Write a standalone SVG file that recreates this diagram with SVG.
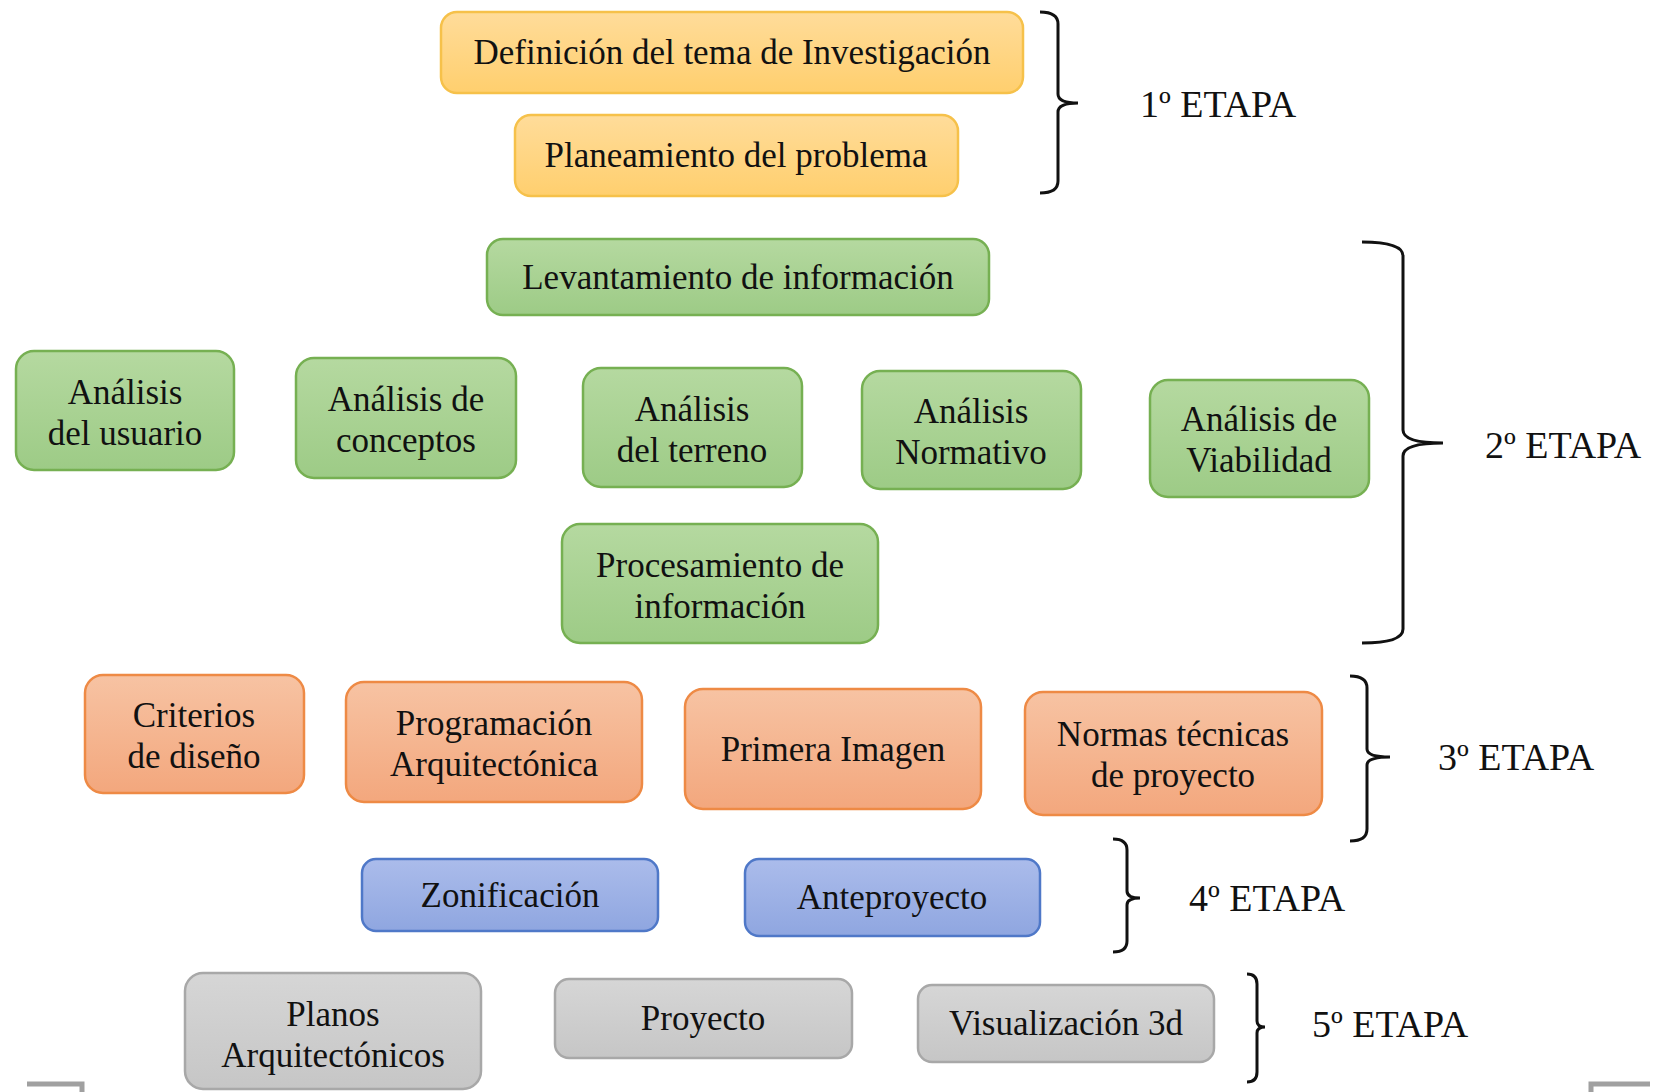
<svg xmlns="http://www.w3.org/2000/svg" width="1654" height="1092" viewBox="0 0 1654 1092">
<defs>
<linearGradient id="gY" x1="0" y1="0" x2="0" y2="1"><stop offset="0" stop-color="#FFDC9A"/><stop offset="1" stop-color="#FFCF6E"/></linearGradient>
<linearGradient id="gG" x1="0" y1="0" x2="0" y2="1"><stop offset="0" stop-color="#B5D9A0"/><stop offset="1" stop-color="#9DCB86"/></linearGradient>
<linearGradient id="gO" x1="0" y1="0" x2="0" y2="1"><stop offset="0" stop-color="#F7C3A3"/><stop offset="1" stop-color="#F3A77D"/></linearGradient>
<linearGradient id="gB" x1="0" y1="0" x2="0" y2="1"><stop offset="0" stop-color="#ABBCEB"/><stop offset="1" stop-color="#8FA6E0"/></linearGradient>
<linearGradient id="gK" x1="0" y1="0" x2="0" y2="1"><stop offset="0" stop-color="#D6D6D6"/><stop offset="1" stop-color="#C6C6C6"/></linearGradient>
</defs>
<style>
.box{stroke-width:2.5}
.y{fill:url(#gY);stroke:#F6C14A}
.g{fill:url(#gG);stroke:#76B052}
.o{fill:url(#gO);stroke:#EE8A45}
.b{fill:url(#gB);stroke:#4F78C8}
.k{fill:url(#gK);stroke:#A8A8A8}
.t{font-family:"Liberation Serif","Times New Roman",serif;font-size:35px;fill:#111;text-anchor:middle}
.lab{font-family:"Liberation Serif","Times New Roman",serif;font-size:38px;fill:#111}
.br{fill:none;stroke:#111;stroke-width:3}
.corner{fill:none;stroke:#A0A0A0;stroke-width:5}
</style>
<rect width="1654" height="1092" fill="#fff"/>

<g id="n1"><rect class="box y" x="441" y="12" width="582" height="81" rx="16"/><text class="t" x="732" y="64">Definición del tema de Investigación</text></g>
<g id="n2"><rect class="box y" x="515" y="115" width="443" height="81" rx="16"/><text class="t" x="736" y="167">Planeamiento del problema</text></g>

<g id="n3"><rect class="box g" x="487" y="239" width="502" height="76" rx="16"/><text class="t" x="738" y="289">Levantamiento de información</text></g>
<g id="n4"><rect class="box g" x="16" y="351" width="218" height="119" rx="18"/><text class="t" x="125" y="404">Análisis</text><text class="t" x="125" y="445">del usuario</text></g>
<g id="n5"><rect class="box g" x="296" y="358" width="220" height="120" rx="18"/><text class="t" x="406" y="411">Análisis de</text><text class="t" x="406" y="452">conceptos</text></g>
<g id="n6"><rect class="box g" x="583" y="368" width="219" height="119" rx="18"/><text class="t" x="692" y="421">Análisis</text><text class="t" x="692" y="462">del terreno</text></g>
<g id="n7"><rect class="box g" x="862" y="371" width="219" height="118" rx="18"/><text class="t" x="971" y="423">Análisis</text><text class="t" x="971" y="464">Normativo</text></g>
<g id="n8"><rect class="box g" x="1150" y="380" width="219" height="117" rx="18"/><text class="t" x="1259" y="431">Análisis de</text><text class="t" x="1259" y="472">Viabilidad</text></g>
<g id="n9"><rect class="box g" x="562" y="524" width="316" height="119" rx="18"/><text class="t" x="720" y="577">Procesamiento de</text><text class="t" x="720" y="618">información</text></g>

<g id="n10"><rect class="box o" x="85" y="675" width="219" height="118" rx="18"/><text class="t" x="194" y="727">Criterios</text><text class="t" x="194" y="768">de diseño</text></g>
<g id="n11"><rect class="box o" x="346" y="682" width="296" height="120" rx="18"/><text class="t" x="494" y="735">Programación</text><text class="t" x="494" y="776">Arquitectónica</text></g>
<g id="n12"><rect class="box o" x="685" y="689" width="296" height="120" rx="18"/><text class="t" x="833" y="761">Primera Imagen</text></g>
<g id="n13"><rect class="box o" x="1025" y="692" width="297" height="123" rx="18"/><text class="t" x="1173" y="746">Normas técnicas</text><text class="t" x="1173" y="787">de proyecto</text></g>

<g id="n14"><rect class="box b" x="362" y="859" width="296" height="72" rx="14"/><text class="t" x="510" y="907">Zonificación</text></g>
<g id="n15"><rect class="box b" x="745" y="859" width="295" height="77" rx="14"/><text class="t" x="892" y="909">Anteproyecto</text></g>

<g id="n16"><rect class="box k" x="185" y="973" width="296" height="116" rx="18"/><text class="t" x="333" y="1026">Planos</text><text class="t" x="333" y="1067">Arquitectónicos</text></g>
<g id="n17"><rect class="box k" x="555" y="979" width="297" height="79" rx="14"/><text class="t" x="703" y="1030">Proyecto</text></g>
<g id="n18"><rect class="box k" x="918" y="985" width="296" height="77" rx="14"/><text class="t" x="1066" y="1035">Visualización 3d</text></g>

<g id="connectors">
<path class="br" d="M1040 12 Q1058 12 1058 24 L1058 94 Q1058 103 1078 103 M1078 103 Q1058 103 1058 112 L1058 181 Q1058 193 1040 193"/>
<path class="br" d="M1362 242 Q1403 242 1403 256 L1403 430 Q1403 443 1443 443 M1443 443 Q1403 443 1403 456 L1403 629 Q1403 643 1362 643"/>
<path class="br" d="M1350 676 Q1367 676 1367 688 L1367 749 Q1367 757 1390 757 M1390 757 Q1367 757 1367 765 L1367 829 Q1367 841 1350 841"/>
<path class="br" d="M1113 839 Q1127 839 1127 850 L1127 891 Q1127 898 1140 898 M1140 898 Q1127 898 1127 905 L1127 941 Q1127 952 1113 952"/>
<path class="br" d="M1247 974 Q1257 974 1257 984 L1257 1021 Q1257 1027 1265 1027 M1265 1027 Q1257 1027 1257 1033 L1257 1072 Q1257 1082 1247 1082"/>
</g>

<g id="labels">
<text class="lab" x="1140" y="117">1º ETAPA</text>
<text class="lab" x="1485" y="458">2º ETAPA</text>
<text class="lab" x="1438" y="770">3º ETAPA</text>
<text class="lab" x="1189" y="911">4º ETAPA</text>
<text class="lab" x="1312" y="1037">5º ETAPA</text>
</g>

<path class="corner" d="M27 1084 L82 1084 L82 1092"/>
<path class="corner" d="M1591 1092 L1591 1084 L1650 1084"/>
</svg>
